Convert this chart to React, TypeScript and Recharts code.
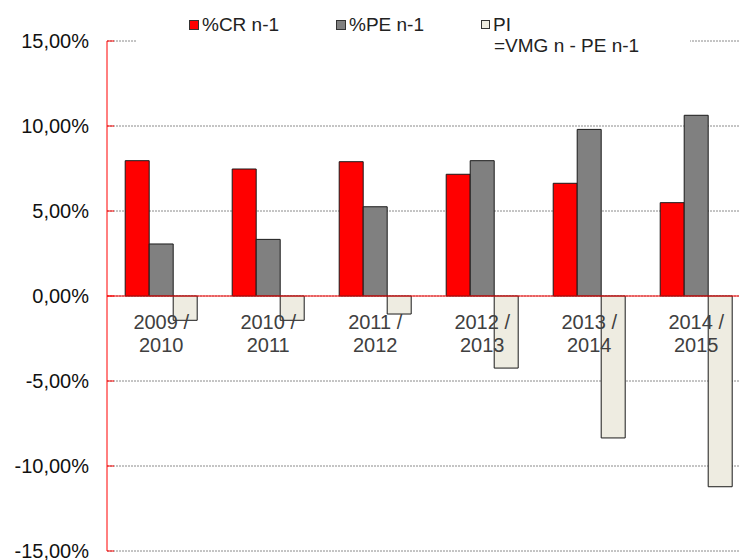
import React from 'react';
import { BarChart, Bar, XAxis, YAxis, CartesianGrid, ReferenceLine, Legend, LabelList } from 'recharts';

const categories = ['2009 / 2010', '2010 / 2011', '2011 / 2012', '2012 / 2013', '2013 / 2014', '2014 / 2015'];
const crValues = [7.96, 7.47, 7.9, 7.16, 6.63, 5.49];
const peValues = [3.06, 3.33, 5.25, 7.96, 9.8, 10.63];
const piValues = [-1.43, -1.43, -1.06, -4.24, -8.35, -11.22];
const yTicks = [-15, -10, -5, 0, 5, 10, 15];

const data = categories.map((c, i) => ({ cat: c, cr: crValues[i], pe: peValues[i], pi: piValues[i] }));

const FONT = '"Liberation Sans", Arial, sans-serif';

const fmt = (v: number) => `${v.toFixed(2).replace('.', ',')}%`;

const CatLabel = (props: any) => {
  const { x, y, width, height, value } = props;
  const zero = Math.min(y, y + height);
  const cx = x - width / 2;
  const parts = String(value).split(' / ');
  return (
    <text x={cx} y={zero + 33} textAnchor="middle" fill="#404040" fontSize={20} fontFamily={FONT}>
      <tspan x={cx} y={zero + 33}>{parts[0] + ' /'}</tspan>
      <tspan x={cx} y={zero + 56}>{parts[1]}</tspan>
    </text>
  );
};

const sq = (bg: string, size = 10) => ({
  display: 'inline-block',
  width: size,
  height: size,
  background: bg,
  border: '1px solid #333',
  boxSizing: 'border-box' as const,
});

const LegendContent = () => (
  <div style={{ position: 'relative', width: '100%', height: '100%', fontFamily: FONT, fontSize: 19, color: '#222' }}>
    <div style={{ position: 'absolute', left: 53, top: 6, display: 'flex', alignItems: 'center', whiteSpace: 'nowrap' }}>
      <span style={sq('#FF0000')} />
      <span style={{ marginLeft: 3 }}>%CR n-1</span>
    </div>
    <div style={{ position: 'absolute', left: 200, top: 6, display: 'flex', alignItems: 'center', whiteSpace: 'nowrap' }}>
      <span style={sq('#808080')} />
      <span style={{ marginLeft: 3 }}>%PE n-1</span>
    </div>
    <div style={{ position: 'absolute', left: 345, top: 6, whiteSpace: 'nowrap', lineHeight: '21px' }}>
      <div style={{ display: 'flex', alignItems: 'center' }}>
        <span style={sq('#EEECE1', 9)} />
        <span style={{ marginLeft: 3 }}>PI</span>
      </div>
      <div style={{ marginLeft: 13 }}>=VMG n - PE n-1</div>
    </div>
  </div>
);

export default function App() {
  return (
    <div style={{ position: 'fixed', left: 0, top: 0, width: 739, height: 560, overflow: 'hidden', background: '#fff' }}>
      <BarChart
        width={749}
        height={560}
        data={data}
        margin={{ top: 41, right: 0, bottom: 9, left: 0 }}
        barCategoryGap="17%"
        barGap={0}
      >
        <CartesianGrid horizontal vertical={false} stroke="#8a8a8a" strokeDasharray="2 1" />
        <XAxis dataKey="cat" hide />
        <YAxis
          width={107}
          domain={[-15, 15]}
          ticks={yTicks}
          tickFormatter={fmt}
          interval={0}
          axisLine={{ stroke: '#FF0000', strokeWidth: 1 }}
          tickLine={{ stroke: '#FF0000', strokeWidth: 1 }}
          tickSize={-7}
          tickMargin={25}
          tick={{ fill: '#111', fontSize: 20, fontFamily: FONT }}
        />
        <ReferenceLine y={0} stroke="#FF0000" strokeWidth={1} />
        <Legend
          layout="vertical"
          verticalAlign="middle"
          align="center"
          content={<LegendContent />}
          wrapperStyle={{ position: 'absolute', left: 136, top: 8, width: 554, height: 54, background: '#fff' }}
        />
        <Bar dataKey="cr" name="%CR n-1" fill="#FF0000" stroke="#1a1a1a" strokeWidth={1} isAnimationActive={false} />
        <Bar dataKey="pe" name="%PE n-1" fill="#808080" stroke="#1a1a1a" strokeWidth={1} isAnimationActive={false} />
        <Bar dataKey="pi" name="PI =VMG n - PE n-1" fill="#EEECE1" stroke="#1a1a1a" strokeWidth={1} isAnimationActive={false}>
          <LabelList dataKey="cat" content={<CatLabel />} />
        </Bar>
      </BarChart>
    </div>
  );
}
